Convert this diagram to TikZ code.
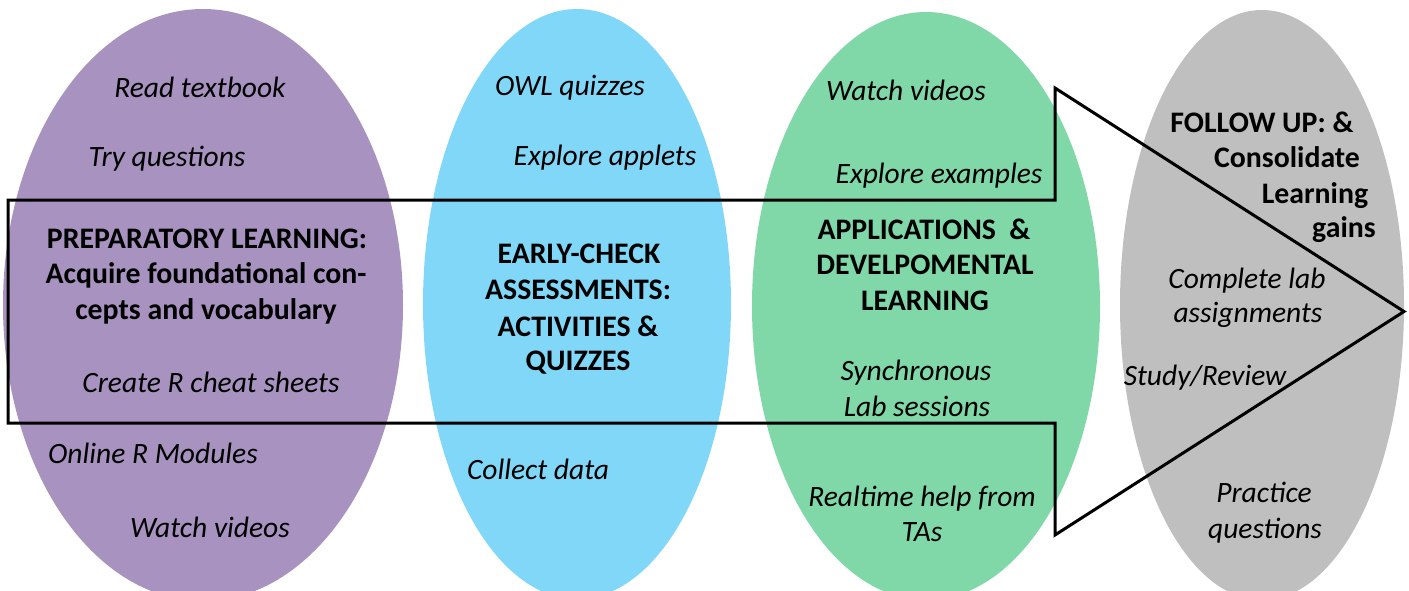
\documentclass[tikz,border=0pt]{standalone}
\usepackage{fontspec}
\setmainfont{Carlito}
\usetikzlibrary{shapes.geometric}
\definecolor{cpurple}{RGB}{167,146,192}
\definecolor{cblue}{RGB}{129,215,247}
\definecolor{cgreen}{RGB}{128,216,168}
\definecolor{cgray}{RGB}{191,191,191}
\begin{document}
\begin{tikzpicture}[x=1pt,y=-1pt,
  blob/.style={ellipse, inner sep=0pt, outer sep=0pt, draw=none},
  it/.style={font=\fontsize{29.5}{36}\selectfont\itshape, anchor=base, inner sep=0pt},
  bd/.style={font=\fontsize{29.8}{36}\selectfont\bfseries, anchor=base, inner sep=0pt},
  arrowline/.style={draw=black, line width=3pt, line join=miter}]
\useasboundingbox (0,0) rectangle (1409,590);
% ellipses
\node[blob, fill=cpurple, minimum width=400pt, minimum height=592pt] (purple) at (203,305) {};
\node[blob, fill=cblue, minimum width=308pt, minimum height=590pt] (blue) at (577,304) {};
\node[blob, fill=cgreen, minimum width=348pt, minimum height=588pt] (green) at (926,306) {};
\node[blob, fill=cgray, minimum width=284pt, minimum height=590pt] (gray) at (1262,305) {};
% arrow outline
\draw[arrowline] (8,200) -- (1055,200) -- (1055,88) -- (1404,311.5) -- (1055,535) -- (1055,423) -- (8,423) -- cycle;
% purple texts
\node[it] (p1) at (200,97) {Read textbook};
\node[it] (p2) at (167,166) {Try questions};
\node[bd] (p3) at (207,248) {PREPARATORY LEARNING:};
\node[bd] (p4) at (206,283) {Acquire foundational con-};
\node[bd] (p5) at (206,319) {cepts and vocabulary};
\node[it] (p6) at (211,392) {Create R cheat sheets};
\node[it] (p7) at (153,463) {Online R Modules};
\node[it] (p8) at (210,537) {Watch videos};
% blue texts
\node[it] (b1) at (570,95) {OWL quizzes};
\node[it] (b2) at (605,165) {Explore applets};
\node[bd] (b3) at (579,263) {EARLY-CHECK};
\node[bd] (b4) at (578,299) {ASSESSMENTS:};
\node[bd] (b5) at (578,336) {ACTIVITIES \&};
\node[bd] (b6) at (578,370) {QUIZZES};
\node[it] (b7) at (538,479) {Collect data};
% green texts
\node[it] (g1) at (906,100) {Watch videos};
\node[it] (g2) at (939,183) {Explore examples};
\node[bd] (g3) at (924,239) {APPLICATIONS~~\&};
\node[bd] (g4) at (925,274) {DEVELPOMENTAL};
\node[bd] (g5) at (925,310) {LEARNING};
\node[it] (g6) at (916,380) {Synchronous};
\node[it] (g7) at (917,416) {Lab sessions};
\node[it] (g8) at (922,506) {Realtime help from};
\node[it] (g9) at (922,541) {TAs};
% gray texts
\node[bd] (r1) at (1262,132) {FOLLOW UP: \&};
\node[bd] (r2) at (1287,167) {Consolidate};
\node[bd] (r3) at (1315,203) {Learning};
\node[bd] (r4) at (1344,237) {gains};
\node[it] (r5) at (1247,288) {Complete lab};
\node[it] (r6) at (1248,322) {assignments};
\node[it] (r7) at (1205,385) {Study/Review};
\node[it] (r8) at (1264,502) {Practice};
\node[it] (r9) at (1265,538) {questions};
\end{tikzpicture}
\end{document}
